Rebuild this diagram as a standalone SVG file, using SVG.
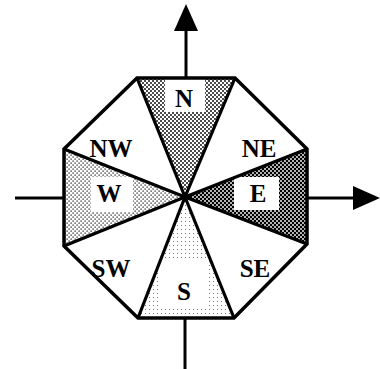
<svg xmlns="http://www.w3.org/2000/svg" width="380" height="369" viewBox="0 0 380 369">
  <defs>
    <pattern id="pN" width="4" height="4" patternUnits="userSpaceOnUse">
      <rect width="4" height="4" fill="#fff"/>
      <circle cx="1" cy="1" r="0.95" fill="#000"/>
      <circle cx="3" cy="3" r="0.95" fill="#000"/>
    </pattern>
    <pattern id="pE" width="4" height="4" patternUnits="userSpaceOnUse">
      <rect width="4" height="4" fill="#000"/>
      <circle cx="1" cy="1" r="0.95" fill="#fff"/>
      <circle cx="3" cy="3" r="0.95" fill="#fff"/>
    </pattern>
    <pattern id="pW" width="4" height="4" patternUnits="userSpaceOnUse">
      <rect width="4" height="4" fill="#fff"/>
      <rect x="0.5" y="0.5" width="1.2" height="1.2" fill="#000"/>
      <rect x="2.5" y="2.5" width="1.2" height="1.2" fill="#000"/>
    </pattern>
    <pattern id="pS" width="4" height="4" patternUnits="userSpaceOnUse">
      <rect width="4" height="4" fill="#fff"/>
      <rect x="1" y="1" width="1" height="1" fill="#777"/>
    </pattern>
    <clipPath id="cN"><polygon points="185,197 137,78 235,78"/></clipPath>
    <clipPath id="cE"><polygon points="185,197 307,149 307,244"/></clipPath>
    <clipPath id="cS"><polygon points="185,197 234,318 138,318"/></clipPath>
    <clipPath id="cW"><polygon points="185,197 64,246 64,149"/></clipPath>
    <marker id="arrow" markerUnits="userSpaceOnUse" markerWidth="28" markerHeight="26" refX="0" refY="12" orient="auto">
      <path d="M0,0 L27,12 L0,24 Z" fill="#000"/>
    </marker>
  </defs>
  <style>
    .lbl { font-family: "Liberation Serif", "Times New Roman", serif; font-weight: bold; font-size: 25px; text-anchor: middle; fill: #000; }
    .frame { fill: none; stroke: #000; stroke-width: 3.5; stroke-linejoin: miter; }
    .spoke { stroke: #000; stroke-width: 3.2; }
    .axis { stroke: #000; stroke-width: 3; fill: none; }
  </style>

  <g id="N">
    <polygon points="185,197 137,78 235,78" fill="url(#pN)"/>
    <rect x="165" y="79" width="40" height="33" fill="#fff" clip-path="url(#cN)"/>
    <text class="lbl" x="184" y="107">N</text>
  </g>
  <g id="NE">
    <polygon points="185,197 235,78 307,149" fill="#fff"/>
    <text class="lbl" x="259" y="157">NE</text>
  </g>
  <g id="E">
    <polygon points="185,197 307,149 307,244" fill="url(#pE)"/>
    <rect x="234" y="177" width="45" height="33" fill="#fff" clip-path="url(#cE)"/>
    <text class="lbl" x="258" y="202">E</text>
  </g>
  <g id="SE">
    <polygon points="185,197 307,244 234,318" fill="#fff"/>
    <text class="lbl" x="255" y="277">SE</text>
  </g>
  <g id="S">
    <polygon points="185,197 234,318 138,318" fill="url(#pS)"/>
    <rect x="161" y="258" width="46" height="48" fill="#fff" clip-path="url(#cS)"/>
    <text class="lbl" x="184" y="300">S</text>
  </g>
  <g id="SW">
    <polygon points="185,197 138,318 64,246" fill="#fff"/>
    <text class="lbl" x="111" y="277">SW</text>
  </g>
  <g id="W">
    <polygon points="185,197 64,246 64,149" fill="url(#pW)"/>
    <rect x="91" y="177" width="42" height="35" fill="#fff" clip-path="url(#cW)"/>
    <text class="lbl" x="109" y="202">W</text>
  </g>
  <g id="NW">
    <polygon points="185,197 64,149 137,78" fill="#fff"/>
    <text class="lbl" x="111" y="157">NW</text>
  </g>

  <g id="frame">
    <polygon class="frame" points="137,78 235,78 307,149 307,244 234,318 138,318 64,246 64,149"/>
    <line class="spoke" x1="185" y1="197" x2="137" y2="78"/>
    <line class="spoke" x1="185" y1="197" x2="235" y2="78"/>
    <line class="spoke" x1="185" y1="197" x2="307" y2="149"/>
    <line class="spoke" x1="185" y1="197" x2="307" y2="244"/>
    <line class="spoke" x1="185" y1="197" x2="234" y2="318"/>
    <line class="spoke" x1="185" y1="197" x2="138" y2="318"/>
    <line class="spoke" x1="185" y1="197" x2="64" y2="246"/>
    <line class="spoke" x1="185" y1="197" x2="64" y2="149"/>
  </g>

  <g id="connectors">
    <line class="axis" x1="186" y1="77" x2="186" y2="31" marker-end="url(#arrow)"/>
    <line class="axis" x1="308" y1="198" x2="353" y2="198" marker-end="url(#arrow)"/>
    <line class="axis" x1="15" y1="198" x2="63" y2="198"/>
    <line class="axis" x1="185" y1="319" x2="185" y2="369"/>
  </g>
</svg>
